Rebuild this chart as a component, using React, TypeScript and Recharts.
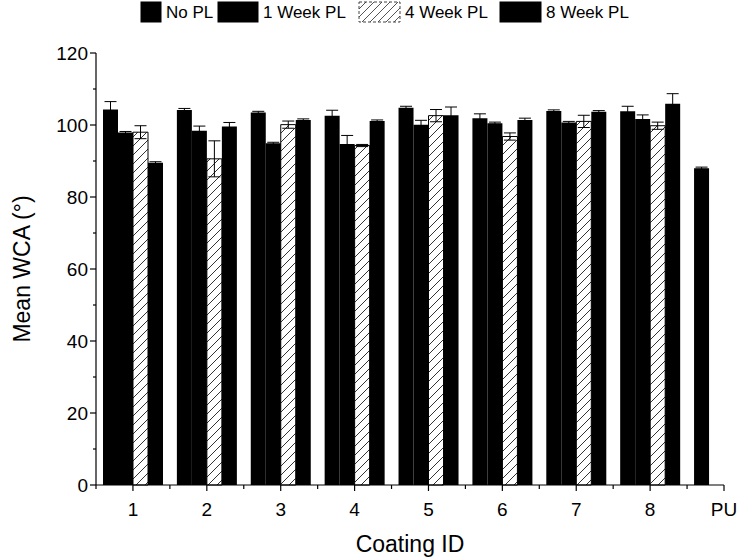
import { BarChart, Bar, XAxis, YAxis, ErrorBar, Legend } from 'recharts';

const FONT = '"Liberation Sans", Arial, sans-serif';

// coating IDs on the x axis (positioned at 1..9)
const categories = ['1', '2', '3', '4', '5', '6', '7', '8', 'PU'];

// mean water contact angle per plasticiser leaching time, with error bar sizes
const noPL = [104.3, 104.2, 103.5, 102.6, 104.8, 101.9, 103.9, 103.8, 88.0];
const noPLErr = [2.2, 0.4, 0.3, 1.5, 0.4, 1.2, 0.3, 1.4, 0.3];
const week1 = [97.9, 98.4, 94.9, 94.7, 100.1, 100.5, 100.7, 101.7, null];
const week1Err = [0.3, 1.3, 0.3, 2.4, 1.2, 0.3, 0.3, 1.1, null];
const week4 = [98.0, 90.6, 100.1, 94.3, 102.6, 96.8, 101.0, 99.8, null];
const week4Err = [1.8, 5.0, 1.0, 0.3, 1.7, 1.0, 1.7, 1.0, null];
const week8 = [89.5, 99.6, 101.4, 101.1, 102.7, 101.4, 103.7, 105.9, null];
const week8Err = [0.3, 1.1, 0.3, 0.3, 2.3, 0.5, 0.3, 2.8, null];

const xTicks = [0.5, 1, 1.5, 2, 2.5, 3, 3.5, 4, 4.5, 5, 5.5, 6, 6.5, 7, 7.5, 8, 8.5, 9];
const yTicks = [0, 10, 20, 30, 40, 50, 60, 70, 80, 90, 100, 110, 120];

const data = categories.map((label, i) => ({
  x: i + 1,
  label,
  noPL: noPL[i],
  noPLErr: noPLErr[i],
  week1: week1[i],
  week1Err: week1Err[i],
  week4: week4[i],
  week4Err: week4Err[i],
  week8: week8[i],
  week8Err: week8Err[i],
}));

const XTick = ({ x, y, payload }: any) => {
  const v = payload.value;
  const major = Number.isInteger(v);
  return (
    <g>
      <line x1={x} y1={y} x2={x} y2={y + (major ? 6 : 4)} stroke="#000" strokeWidth={1.2} />
      {major && (
        <text x={x} y={y + 31} textAnchor="middle" fontSize={19} fontFamily={FONT} fill="#000">
          {categories[v - 1]}
        </text>
      )}
    </g>
  );
};

const YTick = ({ x, y, payload }: any) => {
  const v = payload.value;
  const major = v % 20 === 0;
  return (
    <g>
      <line x1={x - (major ? 6 : 3)} y1={y} x2={x} y2={y} stroke="#000" strokeWidth={1.2} />
      {major && (
        <text x={x - 8} y={y + 7} textAnchor="end" fontSize={19} fontFamily={FONT} fill="#000">
          {v}
        </text>
      )}
    </g>
  );
};

const legendItems = [
  { name: 'No PL', box: 141, w: 20, text: 166, hatch: false },
  { name: '1 Week PL', box: 218, w: 40, text: 263, hatch: false },
  { name: '4 Week PL', box: 359, w: 41, text: 405, hatch: true },
  { name: '8 Week PL', box: 500, w: 41, text: 546, hatch: false },
];

const renderLegend = () => (
  <svg width={740} height={24} style={{ display: 'block' }}>
    {legendItems.map((item) => (
      <g key={item.name}>
        <rect
          x={item.box}
          y={2}
          width={item.w}
          height={20}
          fill={item.hatch ? 'url(#hatchLegend)' : '#000'}
          stroke={item.hatch ? '#444' : '#000'}
          strokeDasharray={item.hatch ? '3 2' : undefined}
        />
        <text x={item.text} y={18} fontSize={17} fontFamily={FONT} fill="#000">
          {item.name}
        </text>
      </g>
    ))}
    <defs>
      <pattern id="hatchLegend" patternUnits="userSpaceOnUse" width={8} height={8}>
        <path d="M0,8 L8,0 M-2,2 L2,-2 M6,10 L10,6" stroke="#555" strokeWidth={1} />
      </pattern>
    </defs>
  </svg>
);

export default function App() {
  return (
    <div style={{ position: 'absolute', left: 0, top: 0, background: '#fff' }}>
      <BarChart
        width={740}
        height={558}
        data={data}
        margin={{ top: 29, right: 16, bottom: 0, left: 0 }}
        barGap={0}
      >
        <defs>
          <pattern id="hatch" patternUnits="userSpaceOnUse" width={9} height={9}>
            <path d="M0,9 L9,0 M-2,2 L2,-2 M7,11 L11,7" stroke="#333" strokeWidth={1} />
          </pattern>
        </defs>
        <Legend
          verticalAlign="top"
          height={24}
          wrapperStyle={{ top: 0, left: 0, width: 740 }}
          content={renderLegend}
        />
        <XAxis
          dataKey="x"
          type="number"
          domain={[0.5, 9]}
          ticks={xTicks}
          interval={0}
          height={73}
          tickSize={0}
          tickMargin={0}
          tickLine={false}
          tick={<XTick />}
          axisLine={{ stroke: '#000', strokeWidth: 1.2 }}
          label={{
            content: () => (
              <text x={410} y={552} textAnchor="middle" fontSize={23} fontFamily={FONT} fill="#000">
                Coating ID
              </text>
            ),
          }}
        />
        <YAxis
          type="number"
          domain={[0, 120]}
          ticks={yTicks}
          interval={0}
          width={96}
          tickSize={0}
          tickMargin={0}
          tickLine={false}
          tick={<YTick />}
          axisLine={{ stroke: '#000', strokeWidth: 1.2 }}
          label={{
            content: () => (
              <text
                x={30}
                y={269}
                textAnchor="middle"
                fontSize={23}
                fontFamily={FONT}
                fill="#000"
                transform="rotate(-90 30 269)"
              >
                Mean WCA (°)
              </text>
            ),
          }}
        />
        <Bar dataKey="noPL" name="No PL" fill="#000" barSize={15} isAnimationActive={false}>
          <ErrorBar dataKey="noPLErr" width={6} stroke="#000" strokeWidth={1} />
        </Bar>
        <Bar dataKey="week1" name="1 Week PL" fill="#000" barSize={15} isAnimationActive={false}>
          <ErrorBar dataKey="week1Err" width={6} stroke="#000" strokeWidth={1} />
        </Bar>
        <Bar
          dataKey="week4"
          name="4 Week PL"
          fill="url(#hatch)"
          stroke="#000"
          strokeWidth={1}
          barSize={15}
          isAnimationActive={false}
        >
          <ErrorBar dataKey="week4Err" width={6} stroke="#000" strokeWidth={1} />
        </Bar>
        <Bar dataKey="week8" name="8 Week PL" fill="#000" barSize={15} isAnimationActive={false}>
          <ErrorBar dataKey="week8Err" width={6} stroke="#000" strokeWidth={1} />
        </Bar>
      </BarChart>
    </div>
  );
}
